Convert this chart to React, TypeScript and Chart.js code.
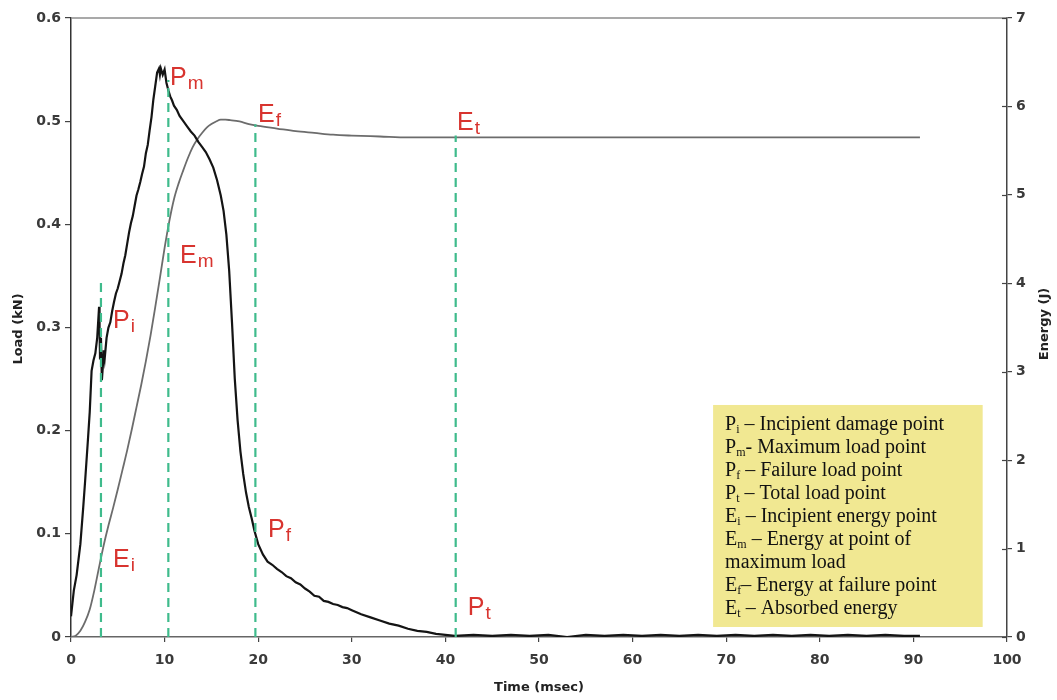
import React, { useEffect, useRef } from "react";
import { Chart, registerables } from "chart.js";

Chart.register(...registerables);

// ---- data ----
const loadTime = [
  0, 0.3, 0.6, 1.0, 1.3, 1.5, 1.8, 2.0, 2.2, 2.4, 2.6, 2.8, 3.0, 3.05, 3.1, 3.2, 3.3, 3.4, 3.5, 3.6,
  3.8, 4.0, 4.2, 4.4, 4.6, 4.8, 5.0, 5.2, 5.4, 5.6, 5.8, 6.0, 6.2, 6.4, 6.6, 6.8, 7.0, 7.2, 7.4, 7.6,
  7.8, 8.0, 8.2, 8.4, 8.6, 8.8, 9.0, 9.2, 9.4, 9.5, 9.6, 9.8, 10.0, 10.2, 10.4, 10.6, 10.8, 11.0, 11.3, 11.6,
  12.0, 12.4, 12.8, 13.2, 13.6, 14.0, 14.4, 14.8, 15.2, 15.6, 16.0, 16.3, 16.6, 16.9, 17.2, 17.5, 17.8, 18.1, 18.4, 18.7,
  19.0, 19.3, 19.6, 20.0, 20.5, 21.0, 21.5, 22.0, 22.5, 23.0, 23.5, 24.0, 24.5, 25.0, 25.5, 26.0, 26.5, 27.0, 27.5, 28.0,
  28.5, 29.0, 29.5, 30.0, 30.5, 31.0, 32.0, 33.0, 34.0, 35.0, 36.0, 37.0, 38.0, 39.0, 40.0, 41.0, 43, 45, 47, 49,
  51, 53, 55, 57, 59, 61, 63, 65, 67, 69, 71, 73, 75, 77, 79, 81, 83, 85, 87, 89, 90.7,
];
const loadKN = [
  0.02, 0.045, 0.06, 0.09, 0.125, 0.15, 0.19, 0.218, 0.258, 0.268, 0.275, 0.29, 0.32, 0.3, 0.27, 0.29, 0.249, 0.262, 0.278, 0.27,
  0.29, 0.3, 0.305, 0.316, 0.325, 0.333, 0.338, 0.345, 0.352, 0.362, 0.37, 0.381, 0.392, 0.401, 0.408, 0.418, 0.428, 0.434, 0.441, 0.449,
  0.456, 0.469, 0.477, 0.491, 0.504, 0.521, 0.534, 0.547, 0.551, 0.545, 0.551, 0.545, 0.55, 0.537, 0.53, 0.524, 0.52, 0.515, 0.511, 0.505,
  0.5, 0.495, 0.49, 0.486, 0.48, 0.475, 0.47, 0.463, 0.455, 0.443, 0.428, 0.413, 0.39, 0.355, 0.305, 0.25, 0.21, 0.18, 0.158, 0.14,
  0.126, 0.115, 0.103, 0.09, 0.08, 0.073, 0.07, 0.066, 0.063, 0.059, 0.057, 0.053, 0.051, 0.047, 0.044, 0.04, 0.039, 0.035, 0.034, 0.032,
  0.031, 0.029, 0.028, 0.026, 0.024, 0.022, 0.019, 0.016, 0.013, 0.011, 0.008, 0.006, 0.005, 0.003, 0.002, 0.001, 0.002, 0.001, 0.002, 0.001,
  0.002, 0.0, 0.002, 0.001, 0.002, 0.001, 0.002, 0.001, 0.002, 0.001, 0.002, 0.001, 0.002, 0.001, 0.002, 0.001, 0.002, 0.001, 0.002, 0.001, 0.001,
];

const energyTime = [
  0, 0.5, 1.0, 1.5, 2.0, 2.5, 3.0, 3.5, 4.0, 4.5, 5.0, 5.5, 6.0, 6.5, 7.0, 7.5, 8.0, 8.5, 9.0, 9.5,
  10.0, 10.5, 11.0, 11.5, 12.0, 12.5, 13.0, 13.5, 14.0, 14.5, 15.0, 15.5, 16.0, 16.5, 17.0, 18.0, 19.0, 20.0, 22.0, 24.0,
  26.0, 28.0, 30.0, 33.0, 36.0, 40.0, 50, 60, 70, 80, 90.7,
];
const energyJ = [
  0, 0.015, 0.07, 0.17, 0.31, 0.53, 0.79, 1.04, 1.26, 1.46, 1.67, 1.89, 2.11, 2.35, 2.6, 2.85, 3.12, 3.41, 3.73, 4.06,
  4.4, 4.7, 4.95, 5.13, 5.28, 5.42, 5.54, 5.63, 5.7, 5.76, 5.8, 5.83, 5.85, 5.85, 5.845, 5.83, 5.8, 5.78, 5.75, 5.72,
  5.7, 5.68, 5.67, 5.66, 5.65, 5.65, 5.65, 5.65, 5.65, 5.65, 5.65,
];

const markerTime = [3.2, 10.4, 19.7, 41.1];
const markerTopLoad = [0.345, 0.54, 0.497, 0.486];

const pointLabelMain = ["P", "P", "P", "P", "E", "E", "E", "E"];
const pointLabelSub = ["i", "m", "f", "t", "i", "m", "f", "t"];
const pointLabelTime = [4.49, 10.58, 21.05, 42.4, 4.49, 11.65, 19.98, 41.24];
const pointLabelLoad = [0.2995, 0.535, 0.097, 0.0213, 0.068, 0.3625, 0.499, 0.491];

const keyMain = ["P", "P", "P", "P", "E", "E", "", "E", "E"];
const keySub = ["i", "m", "f", "t", "i", "m", "", "f", "t"];
const keyText = [
  " – Incipient damage point",
  "- Maximum load point",
  " – Failure load point",
  " – Total load point",
  " – Incipient energy point",
  " – Energy at point of",
  "maximum load",
  "– Energy at failure point",
  " – Absorbed energy",
];

const xTitle = "Time (msec)";
const yTitle = "Load (kN)";
const y2Title = "Energy (J)";

const SANS = '"Liberation Sans", Arial, sans-serif';
const DEJAVU = '"DejaVu Sans", Arial, sans-serif';
const SERIF = '"Liberation Serif", "Times New Roman", serif';

const overlay = {
  id: "overlay",
  afterDatasetsDraw(chart: any) {
    const { ctx, chartArea, scales } = chart;
    const xs = scales.x;
    const ys = scales.y;
    const y2 = scales.y2;
    ctx.save();

    // top frame line
    ctx.strokeStyle = "#8c8c8c";
    ctx.lineWidth = 1.5;
    ctx.beginPath();
    ctx.moveTo(chartArea.left, chartArea.top);
    ctx.lineTo(chartArea.right, chartArea.top);
    ctx.stroke();

    // inner half of right axis ticks
    ctx.strokeStyle = "#444";
    ctx.lineWidth = 1.2;
    for (const t of y2.ticks) {
      const py = Math.round(y2.getPixelForValue(t.value)) + 0.5;
      ctx.beginPath();
      ctx.moveTo(chartArea.right - 5, py);
      ctx.lineTo(chartArea.right, py);
      ctx.stroke();
    }

    // red point labels
    ctx.fillStyle = "#d8342f";
    ctx.textBaseline = "alphabetic";
    ctx.textAlign = "left";
    for (let i = 0; i < pointLabelMain.length; i++) {
      const px = xs.getPixelForValue(pointLabelTime[i]);
      const py = ys.getPixelForValue(pointLabelLoad[i]);
      ctx.font = `25px ${SANS}`;
      ctx.fillText(pointLabelMain[i], px, py);
      const w = ctx.measureText(pointLabelMain[i]).width;
      ctx.font = `19px ${SANS}`;
      ctx.fillText(pointLabelSub[i], px + w + 1, py + 4);
    }

    // key box
    const bx0 = xs.getPixelForValue(68.6);
    const bx1 = xs.getPixelForValue(97.4);
    const by0 = ys.getPixelForValue(0.2249);
    const by1 = ys.getPixelForValue(0.0097);
    ctx.fillStyle = "#f1e892";
    ctx.fillRect(bx0, by0, bx1 - bx0, by1 - by0);
    ctx.fillStyle = "#111";
    for (let i = 0; i < keyText.length; i++) {
      const bl = by0 + 25 + 23 * i;
      let x = bx0 + 12;
      if (keyMain[i]) {
        ctx.font = `20px ${SERIF}`;
        ctx.fillText(keyMain[i], x, bl);
        x += ctx.measureText(keyMain[i]).width;
        ctx.font = `12px ${SERIF}`;
        ctx.fillText(keySub[i], x, bl + 3);
        x += ctx.measureText(keySub[i]).width;
      }
      ctx.font = `20px ${SERIF}`;
      ctx.fillText(keyText[i], x, bl);
    }

    // axis titles
    ctx.fillStyle = "#222";
    ctx.font = `bold 13px ${DEJAVU}`;
    ctx.textAlign = "center";
    ctx.textBaseline = "middle";
    ctx.fillText(xTitle, (chartArea.left + chartArea.right) / 2, 688);
    ctx.save();
    ctx.translate(19, 329);
    ctx.rotate(-Math.PI / 2);
    ctx.fillText(yTitle, 0, 0);
    ctx.restore();
    ctx.save();
    ctx.translate(1045, 324);
    ctx.rotate(-Math.PI / 2);
    ctx.fillText(y2Title, 0, 0);
    ctx.restore();

    ctx.restore();
  },
};

export default function App() {
  const ref = useRef<HTMLCanvasElement | null>(null);

  useEffect(() => {
    if (!ref.current) return;
    const loadData = loadTime.map((t, i) => ({ x: t, y: loadKN[i] }));
    const energyData = energyTime.map((t, i) => ({ x: t, y: energyJ[i] }));
    const markerSets = markerTime.map((t, i) => ({
      label: "marker" + i,
      data: [
        { x: t, y: 0 },
        { x: t, y: markerTopLoad[i] },
      ],
      yAxisID: "y",
      borderColor: "#3fbb8c",
      borderWidth: 2.2,
      borderDash: [9, 6],
      pointRadius: 0,
      tension: 0,
    }));

    const tickFont = { family: DEJAVU, size: 14, weight: "bold" };
    const grid = {
      drawOnChartArea: false,
      drawTicks: true,
      tickLength: 6,
      color: "#444",
      lineWidth: 1.2,
    };

    const chart = new Chart(ref.current, {
      type: "line",
      data: {
        datasets: [
          ...markerSets,
          {
            label: "Load",
            data: loadData,
            yAxisID: "y",
            borderColor: "#141414",
            borderWidth: 2.2,
            pointRadius: 0,
            tension: 0,
          },
          {
            label: "Energy",
            data: energyData,
            yAxisID: "y2",
            borderColor: "#6c6c6c",
            borderWidth: 1.8,
            pointRadius: 0,
            cubicInterpolationMode: "monotone",
          },
        ] as any,
      },
      options: {
        responsive: false,
        devicePixelRatio: 1,
        animation: false,
        layout: { padding: { top: 18, left: 0, right: 0, bottom: 0 } },
        plugins: {
          legend: { display: false },
          tooltip: { enabled: false },
        },
        scales: {
          x: {
            type: "linear",
            min: 0,
            max: 100,
            ticks: { stepSize: 10, font: tickFont, color: "#3a3a3a", padding: 10, maxRotation: 0 },
            grid: { ...grid, tickLength: 5 },
            border: { display: true, color: "#666", width: 1.5 },
            afterFit: (s: any) => {
              s.height = 63;
            },
          },
          y: {
            type: "linear",
            position: "left",
            min: 0,
            max: 0.6,
            ticks: { stepSize: 0.1, font: tickFont, color: "#3a3a3a", padding: 4 },
            grid,
            border: { display: true, color: "#333", width: 1.5 },
            afterFit: (s: any) => {
              s.width = 71;
            },
          },
          y2: {
            type: "linear",
            position: "right",
            min: 0,
            max: 7,
            ticks: { stepSize: 1, font: tickFont, color: "#3a3a3a", padding: 4 },
            grid: { ...grid, tickLength: 5 },
            border: { display: true, color: "#444", width: 1.5 },
            afterFit: (s: any) => {
              s.width = 50;
            },
          },
        },
      } as any,
      plugins: [overlay],
    });
    return () => chart.destroy();
  }, []);

  return (
    <div style={{ position: "fixed", left: 0, top: 0, width: 1057, height: 700, background: "#fff" }}>
      <canvas ref={ref} width={1057} height={700} style={{ display: "block" }} />
    </div>
  );
}
